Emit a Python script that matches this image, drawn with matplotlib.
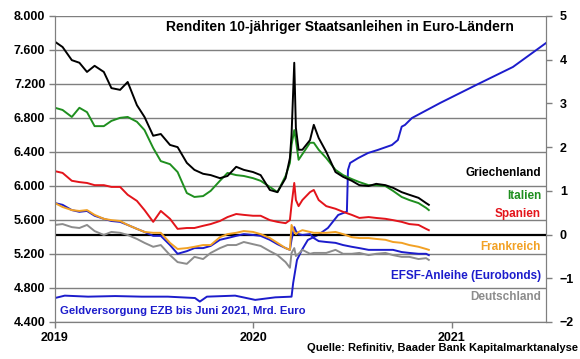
import pandas as pd
import matplotlib
matplotlib.use("Agg")
import matplotlib.pyplot as plt
import matplotlib.dates as mdates
from matplotlib.ticker import FuncFormatter

plt.rcParams['font.family'] = ['Liberation Sans', 'DejaVu Sans']
plt.rcParams['font.weight'] = 'bold'

# Renditen, % (rechte Achse)
yield_dates = [
    "2019-01-01", "2019-01-15", "2019-02-01", "2019-02-15", "2019-03-01", "2019-03-15",
    "2019-04-01", "2019-04-15", "2019-05-01", "2019-05-15", "2019-06-01", "2019-06-15",
    "2019-07-01", "2019-07-15", "2019-08-01", "2019-08-15", "2019-09-01", "2019-09-15",
    "2019-10-01", "2019-10-15", "2019-11-01", "2019-11-15", "2019-12-01", "2019-12-15",
    "2020-01-01", "2020-01-15", "2020-02-01", "2020-02-15", "2020-03-01", "2020-03-09",
    "2020-03-12", "2020-03-17", "2020-03-20", "2020-03-25", "2020-04-01", "2020-04-15",
    "2020-04-22", "2020-05-01", "2020-05-15", "2020-06-01", "2020-06-15", "2020-07-01",
    "2020-07-15", "2020-08-01", "2020-08-15", "2020-09-01", "2020-09-15", "2020-10-01",
    "2020-10-15", "2020-11-01", "2020-11-15", "2020-11-20",
]
griechenland = [4.41, 4.29, 3.99, 3.93, 3.72, 3.86, 3.72, 3.35, 3.31, 3.49, 2.96, 2.69,
                2.26, 2.30, 2.05, 2.00, 1.64, 1.48, 1.39, 1.36, 1.29, 1.34, 1.55, 1.48,
                1.43, 1.36, 1.02, 0.97, 1.29, 1.75, 2.28, 3.93, 2.44, 1.94, 1.94, 2.16,
                2.51, 2.21, 1.89, 1.43, 1.32, 1.23, 1.13, 1.11, 1.16, 1.13, 1.07, 0.97,
                0.91, 0.84, 0.72, 0.68]
italien = [2.90, 2.85, 2.69, 2.90, 2.80, 2.48, 2.48, 2.60, 2.67, 2.69, 2.58, 2.39,
           1.98, 1.68, 1.61, 1.43, 0.95, 0.86, 0.88, 1.00, 1.23, 1.41, 1.36, 1.34,
           1.29, 1.23, 1.09, 0.97, 1.34, 1.64, 2.05, 2.39, 2.16, 1.71, 1.84, 2.10,
           2.10, 1.94, 1.75, 1.48, 1.36, 1.27, 1.20, 1.13, 1.13, 1.11, 1.00, 0.86,
           0.79, 0.72, 0.61, 0.56]
spanien = [1.45, 1.41, 1.23, 1.20, 1.18, 1.13, 1.13, 1.09, 1.09, 0.91, 0.77, 0.56,
           0.29, 0.54, 0.36, 0.13, 0.15, 0.15, 0.20, 0.24, 0.31, 0.40, 0.47, 0.45,
           0.43, 0.43, 0.33, 0.29, 0.26, 0.33, 0.68, 1.18, 0.79, 0.65, 0.79, 0.97,
           1.02, 0.79, 0.65, 0.59, 0.52, 0.45, 0.38, 0.40, 0.38, 0.36, 0.33, 0.29,
           0.24, 0.22, 0.13, 0.10]
frankreich = [0.72, 0.63, 0.56, 0.54, 0.56, 0.45, 0.36, 0.33, 0.31, 0.22, 0.13, 0.06,
              0.04, 0.04, -0.19, -0.33, -0.31, -0.28, -0.24, -0.24, -0.06, 0.01, 0.04, 0.08,
              0.06, 0.01, -0.08, -0.19, -0.31, -0.35, 0.22, 0.06, 0.01, 0.06, 0.10, 0.06,
              0.04, 0.04, 0.04, 0.06, 0.01, -0.06, -0.08, -0.08, -0.10, -0.12, -0.17, -0.19,
              -0.24, -0.28, -0.33, -0.35]
efsf = [0.72, 0.68, 0.56, 0.52, 0.54, 0.43, 0.36, 0.31, 0.29, 0.22, 0.13, 0.06,
        -0.03, -0.03, -0.24, -0.44, -0.38, -0.31, -0.31, -0.26, -0.12, -0.08, -0.03, 0.01,
        -0.01, -0.03, -0.12, -0.22, -0.31, -0.35, -0.12, 0.17, 0.08, 0.01, -0.01, 0.01,
        -0.08, -0.15, -0.17, -0.19, -0.24, -0.28, -0.31, -0.35, -0.35, -0.35, -0.35, -0.40,
        -0.42, -0.44, -0.44, -0.47]
deutschland = [0.22, 0.24, 0.17, 0.15, 0.22, 0.08, -0.01, 0.06, 0.04, -0.01, -0.10, -0.19,
               -0.28, -0.24, -0.47, -0.63, -0.67, -0.51, -0.56, -0.42, -0.31, -0.24, -0.24, -0.17,
               -0.22, -0.26, -0.38, -0.47, -0.63, -0.76, -0.42, -0.31, -0.49, -0.44, -0.35, -0.44,
               -0.42, -0.42, -0.42, -0.35, -0.44, -0.44, -0.42, -0.47, -0.44, -0.42, -0.47, -0.51,
               -0.51, -0.56, -0.54, -0.58]

# Geldversorgung EZB, Mrd. Euro (linke Achse)
ezb_dates = [
    "2019-01-01", "2019-01-19", "2019-03-03", "2019-04-22", "2019-06-10", "2019-07-28",
    "2019-09-16", "2019-09-25", "2019-10-08", "2019-11-29", "2020-01-05", "2020-02-11",
    "2020-03-12", "2020-03-15", "2020-03-22", "2020-03-31", "2020-04-11", "2020-04-30",
    "2020-05-18", "2020-06-06", "2020-06-22", "2020-06-24", "2020-06-28", "2020-07-13",
    "2020-07-31", "2020-08-18", "2020-09-13", "2020-09-24", "2020-10-01", "2020-10-07",
    "2020-10-20", "2020-12-11", "2021-02-19", "2021-04-24", "2021-06-24",
]
ezb = [4682, 4710, 4698, 4705, 4698, 4698, 4682, 4640, 4698, 4710, 4660, 4690,
       4698, 4859, 5129, 5247, 5365, 5424, 5506, 5659, 5698, 6188, 6271, 6329,
       6388, 6424, 6482, 6541, 6698, 6718, 6800, 6977, 7200, 7400, 7682]

series = [
    ("Griechenland", griechenland, "black"),
    ("Italien", italien, "#1f8f1f"),
    ("Spanien", spanien, "#e3141b"),
    ("Frankreich", frankreich, "#f2a124"),
    ("EFSF-Anleihe (Eurobonds)", efsf, "#1c1ccc"),
    ("Deutschland", deutschland, "#8c8c8c"),
]
label_y = [0.487, 0.412, 0.353, 0.245, 0.150, 0.082]

yd = pd.to_datetime(yield_dates)
ed = pd.to_datetime(ezb_dates)

fig = plt.figure(figsize=(5.8, 3.59), dpi=100)
ax = fig.add_axes([0.0948, 0.1031, 0.8466, 0.8524])
ax2 = ax.twinx()

grid_c = "#7f7f7f"
ax.set_ylim(4400, 8000)
ax.set_yticks(range(4400, 8001, 400))
ax.yaxis.set_major_formatter(FuncFormatter(lambda v, p: f"{int(v):,}".replace(",", ".")))
ax.grid(axis="y", color=grid_c, lw=1.0)
ax.set_axisbelow(True)
ax.plot(ed, ezb, color="#1c1ccc", lw=1.4, zorder=5)

ax2.set_ylim(-2, 5)
ax2.set_yticks(range(-2, 6))
ax2.axhline(0, color="black", lw=1.6, zorder=1)
for name, vals, col in series[::-1]:
    ax2.plot(yd, vals, color=col, lw=1.4)
for (name, vals, col), ly in zip(series, label_y):
    ax2.text(0.99, ly, name, color=col, fontsize=8.5, fontweight="bold",
             ha="right", va="center", transform=ax2.transAxes)

ax.set_xlim(pd.Timestamp("2019-01-01"), pd.Timestamp("2021-06-24"))
ax.xaxis.set_major_locator(mdates.YearLocator())
ax.xaxis.set_major_formatter(mdates.DateFormatter("%Y"))

for a in (ax, ax2):
    for s in a.spines.values():
        s.set_color(grid_c)
    a.spines["top"].set_visible(False)
    a.tick_params(colors=grid_c, labelcolor="black", labelsize=9, length=4, width=1)
ax.tick_params(axis="y", pad=3)
ax2.tick_params(axis="y", pad=6)
ax.tick_params(axis="x", pad=3)
for lab in ax.get_yticklabels() + ax.get_xticklabels() + ax2.get_yticklabels():
    lab.set_fontweight("bold")

ax.text(0.58, 0.964, "Renditen 10-jähriger Staatsanleihen in Euro-Ländern",
        fontsize=10, fontweight="bold", ha="center", va="center", transform=ax.transAxes)
ax2.text(0.01, 0.036, "Geldversorgung EZB bis Juni 2021, Mrd. Euro", color="#1c1ccc",
         fontsize=8.1, fontweight="bold", ha="left", va="center", transform=ax2.transAxes)
fig.text(0.997, 0.03, "Quelle: Refinitiv, Baader Bank Kapitalmarktanalyse",
         fontsize=8, fontweight="bold", ha="right", va="center")

fig.savefig("out.png", dpi=100)
